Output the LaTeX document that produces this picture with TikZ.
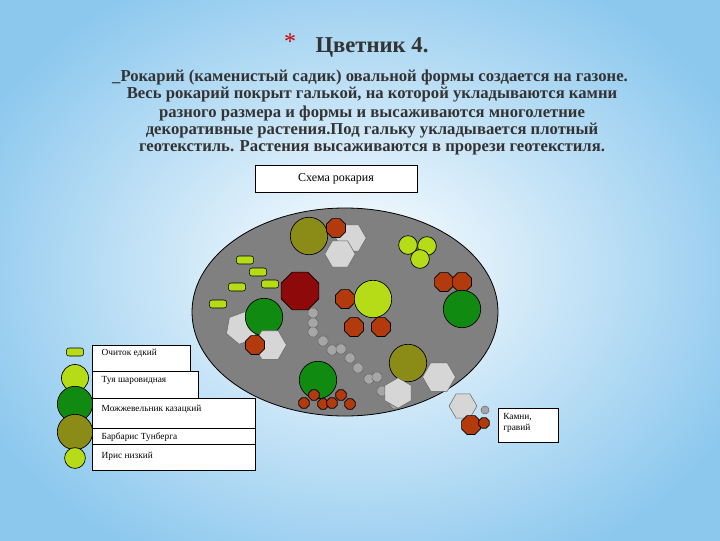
\documentclass[tikz,border=0pt]{standalone}
\usepackage{fontspec}
\setmainfont{Liberation Serif}
\usetikzlibrary{shapes.geometric}
\definecolor{olv}{HTML}{8B8B17}
\definecolor{grn}{HTML}{118A11}
\definecolor{lime}{HTML}{B5DC17}
\definecolor{org}{HTML}{B23A0C}
\definecolor{drd}{HTML}{8E0A0A}
\definecolor{lgr}{HTML}{D6D6D6}
\definecolor{bgb}{HTML}{8CC8EE}
\tikzset{
 x=0.75pt,y=-0.75pt,
 pc/.style={circle,draw=black,line width=0.5pt,inner sep=0,minimum size=#1*0.78pt},
 oct/.style={regular polygon,regular polygon sides=8,draw=black,line width=0.5pt,fill=org,inner sep=0,minimum size=#1*0.85pt},
 hexa/.style={regular polygon,regular polygon sides=6,draw=black!60,line width=0.4pt,fill=lgr,inner sep=0,minimum size=#1*0.95pt},
 peb/.style={regular polygon,regular polygon sides=8,draw=black!60,line width=0.4pt,fill=black!35,inner sep=0,minimum size=8pt},
 sed/.style={rounded corners=2pt,draw=black,line width=0.4pt,fill=lime,minimum width=13pt,minimum height=6pt,inner sep=0},
 lbl/.style={draw=black,line width=0.5pt,fill=white,anchor=north west,inner sep=0},
 tline/.style={font=\bfseries\fontsize{12.5}{14}\selectfont,text=black!80,inner sep=0}
}
\begin{document}
\begin{tikzpicture}
\useasboundingbox (0,0) rectangle (720,540);
\shade[inner color=white,outer color=bgb] (-60,-60) rectangle (780,600);
\node[text=red!80!black,font=\fontsize{18}{18}\selectfont] (star) at (290,42) {*};
\node[tline,font=\bfseries\fontsize{17}{18}\selectfont] (title) at (372,47) {Цветник 4.};
\node[tline] (l1) at (370,77) {\_Рокарий (каменистый садик) овальной формы создается на газоне.};
\node[tline] (l2) at (372,95) {Весь рокарий покрыт галькой, на которой укладываются камни};
\node[tline] (l3) at (372,113) {разного размера и формы и высаживаются многолетние};
\node[tline] (l4) at (372,131) {декоративные растения.Под гальку укладывается плотный};
\node[tline] (l5) at (372,148) {геотекстиль. Растения высаживаются в прорези геотекстиля.};
\node[draw=black,line width=0.5pt,fill=white,minimum width=121.5pt,minimum height=20pt,font=\fontsize{9}{10}\selectfont] (schema) at (336,179) {Схема рокария};
\node[ellipse,draw=black,line width=0.6pt,fill=black!50,minimum width=229.5pt,minimum height=156pt] (bed) at (345,312) {};
% top left
\node[pc=36,fill=olv] (p1) at (309,236) {};
\node[hexa=24] (h1) at (351,238) {};
\node[oct=18] (o1) at (336,228) {};
\node[hexa=24] (h2) at (340,254) {};
% lime trio
\node[pc=18,fill=lime] (p2) at (408,245) {};
\node[pc=18,fill=lime] (p3) at (427,246) {};
\node[pc=18,fill=lime] (p4) at (420,259) {};
\node[oct=18] (o2) at (444,282) {};
\node[oct=18] (o3) at (462,282) {};
\node[pc=36,fill=grn] (p5) at (462,309) {};
\node[oct=36,fill=drd] (o4) at (300,291) {};
\node[oct=18] (o5) at (345,299) {};
\node[pc=36,fill=lime] (p6) at (373,299) {};
\node[oct=18] (o6) at (354,327) {};
\node[oct=18] (o7) at (381,327) {};
% sedum
\node[sed] (s1) at (245,260) {};
\node[sed] (s2) at (258,272) {};
\node[sed] (s3) at (237,287) {};
\node[sed] (s4) at (270,284) {};
\node[sed] (s5) at (218,304) {};
\node[hexa=26,rotate=20] (h3) at (242,328) {};
\node[pc=36,fill=grn] (p7) at (264,317) {};
\node[hexa=26,rotate=60] (h4) at (270,345) {};
\node[oct=18] (o8) at (255,345) {};
% pebble chain
\foreach \x/\y [count=\i] in {313/313,313/323,313/332,323/341,332/350,341/349,350/358,358/368,369/379,377/377,382/391,395/404}
 \node[peb] (g\i) at (\x,\y) {};
\node[pc=36,fill=olv] (p8) at (408,363) {};
\node[hexa=26] (h5) at (439,377) {};
\node[hexa=24,rotate=30] (h6) at (398,393) {};
\node[pc=36,fill=grn] (p9) at (318,380) {};
\foreach \x/\y [count=\i] in {314/395,304/403,323/404,332/403,341/395,350/404}
 \node[oct=10] (r\i) at (\x,\y) {};
% legend
\node[sed] (ks) at (75,352) {};
\node[pc=26,fill=lime] (kt) at (75,378) {};
\node[pc=34,fill=grn] (kj) at (75,404) {};
\node[pc=34,fill=olv] (kb) at (75,432) {};
\node[pc=20,fill=lime] (ki) at (75,458) {};
\begin{scope}[every node/.append style={font=\fontsize{7}{8}\selectfont}]
\node[lbl,minimum width=73.5pt,minimum height=19.5pt] (b1) at (92,345) {};
\node[anchor=west] (t1) at (97,353) {Очиток едкий};
\node[lbl,minimum width=79.5pt,minimum height=20pt] (b2) at (92,371) {};
\node[anchor=west] (t2) at (97,380) {Туя шаровидная};
\node[lbl,minimum width=122pt,minimum height=22.5pt] (b3) at (92,398) {};
\node[anchor=west] (t3) at (97,409) {Можжевельник казацкий};
\node[lbl,minimum width=122pt,minimum height=12pt] (b4) at (92,428) {};
\node[anchor=west] (t4) at (97,437) {Барбарис Тунберга};
\node[lbl,minimum width=122pt,minimum height=19.5pt] (b5) at (92,444) {};
\node[anchor=west] (t5) at (97,456) {Ирис низкий};
\node[lbl,minimum width=45pt,minimum height=25.5pt] (b6) at (498,408) {};
\node[anchor=north west,align=left,inner sep=0] (t6) at (503,413) {Камни,\\гравий};
\end{scope}
\node[hexa=22] (kh) at (463,406) {};
\node[oct=18] (ko) at (471,425) {};
\node[circle,draw=black!60,fill=black!35,minimum size=6pt,inner sep=0] (kg) at (485,410) {};
\node[oct=10] (kr) at (484,423) {};
\end{tikzpicture}
\end{document}
